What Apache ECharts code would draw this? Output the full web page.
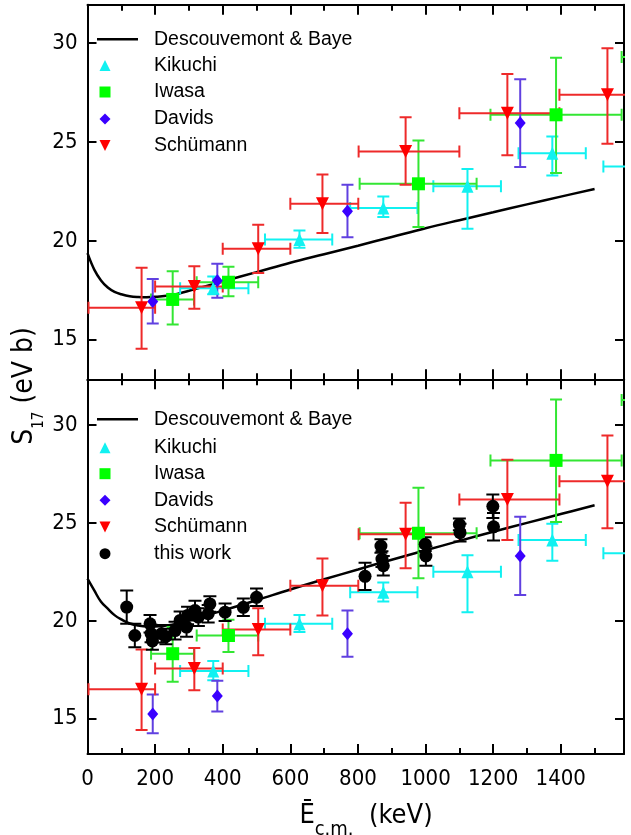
<!DOCTYPE html>
<html>
<head>
<meta charset="utf-8">
<script src="https://cdn.jsdelivr.net/npm/echarts@6/dist/echarts.min.js"></script>
<style>
  html, body { margin: 0; padding: 0; background: #fff; }
  #chart { width: 631px; height: 835px; }
</style>
</head>
<body>
<div id="chart"></div>
<script>
// ---------- axis ticks ----------
const E_MAX = 1587;
const MAJOR_E = [0, 200, 400, 600, 800, 1000, 1200, 1400];
const MINOR_E = [100, 300, 500, 700, 900, 1100, 1300, 1500];
const S_TICKS = [15, 20, 25, 30];

// ---------- Descouvemont & Baye calculation ----------
const theoryE      = [0, 20, 40, 60, 80, 100, 125, 150, 175, 200, 250, 300, 400, 500, 600, 700, 800, 900, 1000, 1100, 1200, 1300, 1400, 1500];
const theoryUpper  = [19.38, 18.55, 18.0, 17.64, 17.42, 17.3, 17.2, 17.16, 17.15, 17.17, 17.26, 17.48, 17.95, 18.42, 18.9, 19.33, 19.76, 20.2, 20.64, 21.05, 21.45, 21.85, 22.24, 22.63];
const theoryLower  = [22.15, 21.55, 20.97, 20.62, 20.29, 20.07, 19.86, 19.76, 19.71, 19.71, 19.8, 20.02, 20.52, 21.05, 21.6, 22.12, 22.62, 23.12, 23.6, 24.08, 24.55, 25.0, 25.45, 25.9];

// ---------- Kikuchi ----------
const kikuchiE     = [372, 627, 875, 1124, 1375, 1625];
const kikuchiElo   = [274, 525, 777, 1023, 1275, 1526];
const kikuchiEhi   = [476, 724, 976, 1223, 1474, 1725];
const kikuchiU     = [17.6, 20.07, 21.67, 22.76, 24.44, 23.77];
const kikuchiUlo   = [17.3, 19.65, 21.21, 20.62, 23.31, 23.3];
const kikuchiUhi   = [18.2, 20.53, 22.25, 23.64, 25.28, 24.25];
const kikuchiL     = [17.44, 19.85, 21.46, 22.5, 24.13, 23.45];
const kikuchiLlo   = [16.97, 19.43, 20.98, 20.44, 23.06, 23.0];
const kikuchiLhi   = [17.95, 20.3, 21.96, 23.35, 24.96, 23.9];

// ---------- Iwasa ----------
const iwasaE       = [252, 417, 979, 1386, 1790];
const iwasaElo     = [188, 323, 805, 1192, 1580];
const iwasaEhi     = [315, 505, 1151, 1580, 2000];
const iwasaU       = [17.04, 17.91, 22.89, 26.38, 29.3];
const iwasaUlo     = [15.77, 17.2, 20.7, 23.43, 27.5];
const iwasaUhi     = [18.47, 18.69, 25.08, 29.27, 31.1];
const iwasaL       = [18.32, 19.25, 24.47, 28.19, 31.27];
const iwasaLlo     = [16.89, 18.41, 22.17, 25.04, 29.5];
const iwasaLhi     = [19.68, 20.05, 26.79, 31.3, 33.0];

// ---------- Davids ----------
const davidsE      = [193, 384, 769, 1280];
const davidsU      = [16.93, 17.99, 21.5, 25.96];
const davidsUlo    = [15.82, 17.12, 20.18, 23.74];
const davidsUhi    = [18.08, 18.85, 22.84, 28.18];
const davidsL      = [15.24, 16.16, 19.34, 23.31];
const davidsLlo    = [14.26, 15.37, 18.16, 21.32];
const davidsLhi    = [16.24, 16.94, 20.52, 25.31];

// ---------- Schümann ----------
const schuE        = [160, 316, 505, 695, 941, 1242, 1538];
const schuElo      = [3, 200, 400, 600, 802, 1100, 1396];
const schuEhi      = [200, 400, 600, 801, 1100, 1396, 1700];
const schuU        = [16.62, 17.7, 19.6, 21.88, 24.52, 26.46, 27.39];
const schuUlo      = [14.55, 16.57, 18.38, 20.4, 22.84, 24.34, 24.91];
const schuUhi      = [18.64, 18.72, 20.82, 23.36, 26.26, 28.45, 29.75];
const schuL        = [16.51, 17.56, 19.56, 21.79, 24.42, 26.19, 27.12];
const schuLlo      = [14.43, 16.46, 18.24, 20.27, 22.68, 24.13, 24.72];
const schuLhi      = [18.54, 18.61, 20.64, 23.18, 26.03, 28.22, 29.46];

// ---------- this work ----------
const workE        = [116, 140, 185, 188, 192, 219, 232, 259, 274, 293, 296, 318, 328, 357, 362, 407, 461, 500, 821, 868, 871, 875, 999, 1001, 1100, 1102, 1199, 1201];
const workS        = [20.7, 19.25, 19.85, 19.35, 18.97, 19.34, 19.2, 19.5, 20.02, 19.68, 20.27, 20.52, 20.19, 20.36, 20.86, 20.44, 20.69, 21.2, 22.27, 23.82, 23.15, 22.81, 23.91, 23.31, 24.92, 24.5, 25.85, 24.8];
const workErr      = [0.85, 0.6, 0.45, 0.45, 0.45, 0.45, 0.4, 0.45, 0.45, 0.5, 0.45, 0.5, 0.45, 0.45, 0.4, 0.45, 0.45, 0.45, 0.7, 0.35, 0.4, 0.5, 0.35, 0.5, 0.3, 0.45, 0.6, 0.7];

// ---------- styling ----------
const NUM_FONT = "'DejaVu Sans Condensed', 'Liberation Sans Narrow', 'DejaVu Sans', sans-serif";
const TEXT_FONT = "'Liberation Sans', Arial, sans-serif";
const C_KIK = '#11f1f1', C_IWA = '#00ff00', C_IWA_BAR = '#33e633';
const C_DAV = '#3a00ff', C_DAV_BAR = '#6040e0', C_SCH = '#ff0000', C_SCH_BAR = '#ee2a2a';
const DOWN_TRIANGLE = 'path://M0,0 L10,0 L5,10 Z';

const grids = [
  { left: 87.5, top: 4.7, width: 536.5, height: 374.6 },
  { left: 87.5, top: 379.3, width: 536.5, height: 374.7 }
];
const yRanges = [[13, 31.95], [13.2, 32.33]];

const axisLine = { show: true, onZero: false, lineStyle: { color: '#000', width: 2 } };
const tickLine = { color: '#000', width: 2 };

function xAxesFor(grid, withLabels) {
  const base = { type: 'value', gridIndex: grid, min: 0, max: E_MAX, splitLine: { show: false } };
  const major = (pos, labels) => Object.assign({}, base, {
    position: pos, axisLine,
    axisTick: { show: true, inside: true, length: 10, customValues: MAJOR_E, lineStyle: tickLine },
    axisLabel: labels ? {
      show: true, customValues: MAJOR_E, color: '#000', fontFamily: NUM_FONT, fontSize: 22, margin: 14,
      formatter: v => String(v)
    } : { show: false }
  });
  const minor = (pos) => Object.assign({}, base, {
    position: pos, axisLine: { show: false },
    axisTick: { show: true, inside: true, length: 6, customValues: MINOR_E, lineStyle: tickLine },
    axisLabel: { show: false }
  });
  return [major('bottom', withLabels), minor('bottom'), major('top', false), minor('top')];
}

function yAxesFor(grid) {
  const base = { type: 'value', gridIndex: grid, min: yRanges[grid][0], max: yRanges[grid][1], splitLine: { show: false }, axisLine };
  return [
    Object.assign({}, base, {
      position: 'left',
      axisTick: { show: true, inside: true, length: 9, customValues: S_TICKS, lineStyle: tickLine },
      axisLabel: { show: true, customValues: S_TICKS, color: '#000', fontFamily: NUM_FONT, fontSize: 22, margin: 10 }
    }),
    Object.assign({}, base, {
      position: 'right',
      axisTick: { show: true, inside: true, length: 9, customValues: S_TICKS, lineStyle: tickLine },
      axisLabel: { show: false }
    })
  ];
}

// error bars: rows are [E, S, Elo, Ehi, Slo, Shi]
function errorBars(name, grid, rows, color, cap) {
  return {
    type: 'custom', name, xAxisIndex: grid * 4, yAxisIndex: grid * 2,
    clip: true, silent: true, z: 2, data: rows, encode: { x: 0, y: 1 },
    renderItem(params, api) {
      const x = api.value(0), y = api.value(1);
      const xl = api.value(2), xh = api.value(3), yl = api.value(4), yh = api.value(5);
      const style = { stroke: color, lineWidth: 2, fill: null };
      const kids = [];
      const seg = (a, b) => kids.push({ type: 'line', shape: { x1: a[0], y1: a[1], x2: b[0], y2: b[1] }, style });
      if (isFinite(yl) && isFinite(yh)) {
        const p = api.coord([x, yl]), q = api.coord([x, yh]);
        seg(p, q);
        seg([p[0] - cap, p[1]], [p[0] + cap, p[1]]);
        seg([q[0] - cap, q[1]], [q[0] + cap, q[1]]);
      }
      if (isFinite(xl) && isFinite(xh)) {
        const p = api.coord([xl, y]), q = api.coord([xh, y]);
        seg(p, q);
        seg([p[0], p[1] - cap], [p[0], p[1] + cap]);
        seg([q[0], q[1] - cap], [q[0], q[1] + cap]);
      }
      return { type: 'group', children: kids };
    }
  };
}

function markers(name, grid, xs, ys, symbol, size, color, rotate) {
  return {
    type: 'scatter', name, xAxisIndex: grid * 4, yAxisIndex: grid * 2, z: 3,
    symbol, symbolSize: size, symbolRotate: rotate || 0,
    itemStyle: { color, opacity: 1 },
    data: xs.map((e, i) => [e, ys[i]])
  };
}

function rows(xs, ys, xlo, xhi, ylo, yhi) {
  return xs.map((e, i) => [e, ys[i], xlo ? xlo[i] : null, xhi ? xhi[i] : null, ylo[i], yhi[i]]);
}

function theory(grid, ys) {
  return {
    type: 'line', name: 'Descouvemont & Baye', xAxisIndex: grid * 4, yAxisIndex: grid * 2,
    smooth: 0.4, symbol: 'none', showSymbol: false, z: 1,
    lineStyle: { color: '#000', width: 2.5 }, itemStyle: { color: '#000' },
    data: theoryE.map((e, i) => [e, ys[i]])
  };
}

function panelSeries(grid) {
  const U = grid === 0;
  const s = [theory(grid, U ? theoryUpper : theoryLower)];
  s.push(errorBars('Kikuchi bars', grid, rows(kikuchiE, U ? kikuchiU : kikuchiL, kikuchiElo, kikuchiEhi, U ? kikuchiUlo : kikuchiLlo, U ? kikuchiUhi : kikuchiLhi), C_KIK, 6));
  s.push(markers('Kikuchi', grid, kikuchiE, U ? kikuchiU : kikuchiL, 'triangle', [12, 13], C_KIK));
  s.push(errorBars('Iwasa bars', grid, rows(iwasaE, U ? iwasaU : iwasaL, iwasaElo, iwasaEhi, U ? iwasaUlo : iwasaLlo, U ? iwasaUhi : iwasaLhi), C_IWA_BAR, 6));
  s.push(markers('Iwasa', grid, iwasaE, U ? iwasaU : iwasaL, 'rect', 13, C_IWA));
  s.push(errorBars('Davids bars', grid, rows(davidsE, U ? davidsU : davidsL, null, null, U ? davidsUlo : davidsLlo, U ? davidsUhi : davidsLhi), C_DAV_BAR, 6));
  s.push(markers('Davids', grid, davidsE, U ? davidsU : davidsL, 'diamond', [11, 13], C_DAV));
  s.push(errorBars('Schümann bars', grid, rows(schuE, U ? schuU : schuL, schuElo, schuEhi, U ? schuUlo : schuLlo, U ? schuUhi : schuLhi), C_SCH_BAR, 6));
  s.push(markers('Schümann', grid, schuE, U ? schuU : schuL, 'triangle', [13, 13], C_SCH, 180));
  if (!U) {
    const lo = workS.map((v, i) => v - workErr[i]);
    const hi = workS.map((v, i) => v + workErr[i]);
    s.push(errorBars('this work bars', grid, rows(workE, workS, null, null, lo, hi), '#000', 6.5));
    s.push(markers('this work', grid, workE, workS, 'circle', 13, '#000'));
  }
  return s;
}

// legend entries, one component per row
const LEGEND_TEXT_H = 18;
function legendRow(name, cy, opts) {
  opts = opts || {};
  const isLine = !!opts.line;
  const w = isLine ? 41 : 11, h = isLine ? 2.5 : 11;
  const left = isLine ? 97 : 105 - w / 2;
  const item = { name };
  if (isLine) item.icon = 'rect';
  if (opts.icon) item.icon = opts.icon;
  const leg = {
    data: [item], orient: 'vertical', left, top: cy - LEGEND_TEXT_H / 2, padding: 0,
    itemWidth: w, itemHeight: h, selectedMode: false,
    textStyle: {
      fontFamily: TEXT_FONT, fontSize: 19.5, lineHeight: LEGEND_TEXT_H, color: '#000',
      padding: [0, 0, 0, 154 - (left + w + 5)]
    }
  };
  if (isLine) leg.itemStyle = { color: '#000', borderWidth: 0 };
  return leg;
}

const legends = [
  legendRow('Descouvemont & Baye', 38.3, { line: true }),
  legendRow('Kikuchi', 64.5),
  legendRow('Iwasa', 91),
  legendRow('Davids', 118),
  legendRow('Schümann', 144.5, { icon: DOWN_TRIANGLE }),
  legendRow('Descouvemont & Baye', 418.3, { line: true }),
  legendRow('Kikuchi', 446.7),
  legendRow('Iwasa', 472.7),
  legendRow('Davids', 499.3),
  legendRow('Schümann', 526, { icon: DOWN_TRIANGLE }),
  legendRow('this work', 552.7)
];

const chart = echarts.init(document.getElementById('chart'), null, { renderer: 'canvas' });
chart.setOption({
  animation: false,
  backgroundColor: '#fff',
  grid: grids,
  xAxis: [].concat(xAxesFor(0, false), xAxesFor(1, true)),
  yAxis: [].concat(yAxesFor(0), yAxesFor(1)),
  legend: legends,
  series: [].concat(panelSeries(0), panelSeries(1)),
  graphic: [
    {
      type: 'text', x: 29, y: 386, rotation: Math.PI / 2, silent: true,
      style: {
        text: '{m|S}{s|17}{g| }{m|(eV b)}',
        align: 'center', verticalAlign: 'middle',
        rich: {
          m: { fontFamily: NUM_FONT, fontSize: 28, lineHeight: 30, verticalAlign: 'top', fill: '#000' },
          s: { fontFamily: NUM_FONT, fontSize: 15, lineHeight: 14, verticalAlign: 'bottom', fill: '#000' },
          g: { fontFamily: NUM_FONT, fontSize: 28, lineHeight: 36, verticalAlign: 'top', fill: '#000' }
        }
      }
    },
    {
      type: 'text', x: 366, y: 821, silent: true,
      style: {
        text: '{m|Ē}{s|c.m.}{g|  }{m|(keV)}',
        align: 'center', verticalAlign: 'middle',
        rich: {
          m: { fontFamily: NUM_FONT, fontSize: 27, lineHeight: 30, verticalAlign: 'top', fill: '#000' },
          s: { fontFamily: NUM_FONT, fontSize: 20, lineHeight: 16, verticalAlign: 'bottom', fill: '#000' },
          g: { fontFamily: NUM_FONT, fontSize: 27, lineHeight: 38, verticalAlign: 'top', fill: '#000' }
        }
      }
    }
  ]
});
</script>
</body>
</html>
